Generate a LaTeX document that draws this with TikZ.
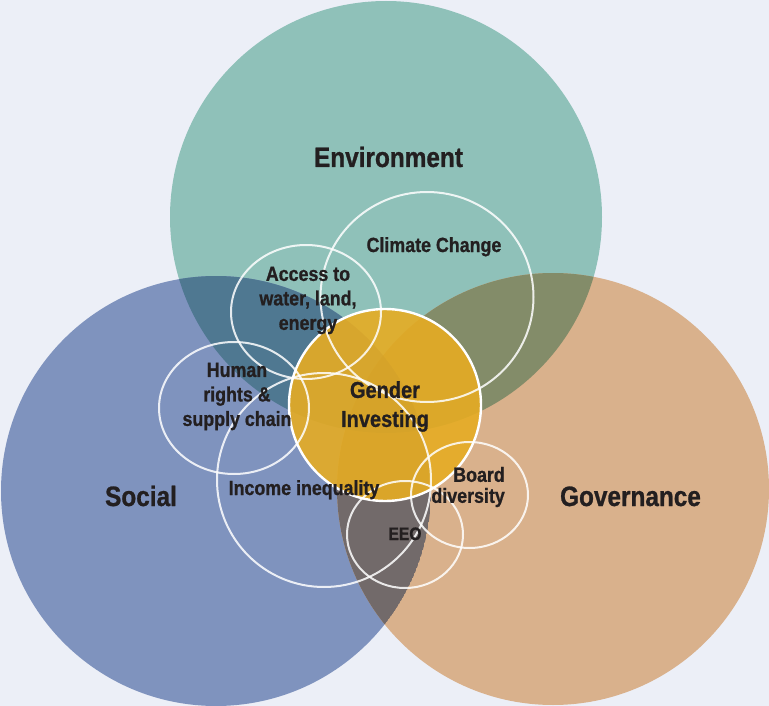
\documentclass[tikz,border=0pt]{standalone}
\usepackage{fontspec}
\setmainfont{Liberation Sans}[FakeStretch=0.87, BoldFeatures={FakeBold=0.9}]
\definecolor{bgc}{HTML}{ECEFF7}
\definecolor{envc}{HTML}{8FC1B9}
\definecolor{socc}{HTML}{7F93BE}
\definecolor{govc}{HTML}{D9B18C}
\definecolor{esc}{HTML}{4F7891}
\definecolor{egc}{HTML}{838C69}
\definecolor{sgc}{HTML}{726A6A}
\definecolor{esgc}{HTML}{4B5A62}
\definecolor{goldc}{HTML}{E6AC23}
\definecolor{txtc}{HTML}{231F20}
\tikzset{
  ring/.style={draw=white, draw opacity=0.85, line width=2pt},
  bigl/.style={inner sep=0pt, text=txtc, font=\bfseries\fontsize{28}{32}\selectfont, anchor=base},
  smalll/.style={inner sep=0pt, text=txtc, font=\bfseries\fontsize{20.5}{24.5}\selectfont},
}
\begin{document}
\begin{tikzpicture}[x=1pt,y=-1pt]
\fill[bgc] (0,0) rectangle (769,706);
\useasboundingbox (0,0) rectangle (769,706);
% big circles
\coordinate (E) at (386,217);
\coordinate (S) at (216,491);
\coordinate (G) at (553,489);
\fill[envc] (E) circle[radius=216pt];
\fill[socc] (S) circle[radius=215pt];
\fill[govc] (G) circle[radius=216pt];
\begin{scope}
  \clip (E) circle[radius=216pt];
  \fill[esc] (S) circle[radius=215pt];
  \fill[egc] (G) circle[radius=216pt];
  \begin{scope}
    \clip (S) circle[radius=215pt];
    \fill[esgc] (G) circle[radius=216pt];
  \end{scope}
\end{scope}
\begin{scope}
  \clip (S) circle[radius=215pt];
  \clip (G) circle[radius=216pt];
  \fill[sgc] (S) circle[radius=215pt];
  \clip (E) circle[radius=216pt];
  \fill[esgc] (S) circle[radius=215pt];
\end{scope}
% gender investing
\fill[goldc, opacity=0.9] (385,405) circle[radius=96pt];
% small rings
\draw[ring] (427,297) ellipse[x radius=106.5pt, y radius=105pt];
\draw[ring] (306,312) ellipse[x radius=75pt, y radius=67pt];
\draw[ring] (234,408) ellipse[x radius=75pt, y radius=66pt];
\draw[ring] (324,480) circle[radius=107pt];
\draw[ring] (469.5,495) ellipse[x radius=58.5pt, y radius=53pt];
\draw[ring] (405,534.5) ellipse[x radius=58pt, y radius=53.5pt];
\draw[draw=white, line width=2.4pt] (385,405) circle[radius=96pt];
% labels
\node[bigl] (env) at (388.5,167) {Environment};
\node[bigl] (soc) at (141,506) {Social};
\node[bigl] (gov) at (630.5,506) {Governance};
\node[smalll, anchor=base] (clim) at (434,252) {Climate Change};
\node[smalll, align=center] (acc) at (308,300.5) {Access to\\water, land,\\energy};
\node[smalll, align=center] (hum) at (237,396.5) {Human\\rights \&\\supply chain};
\node[inner sep=0pt, text=txtc, font=\bfseries\fontsize{23}{29}\selectfont, align=center] (gen) at (385,406.5) {Gender\\Investing};
\node[smalll, anchor=base] (inc) at (304,495) {Income inequality};
\node[smalll, align=right, anchor=east, font=\bfseries\fontsize{20.5}{21}\selectfont] (brd) at (505,487) {Board\\diversity};
\node[smalll, anchor=base, font=\bfseries\fontsize{18}{21}\selectfont] (eeo) at (405,540) {EEO};
\end{tikzpicture}
\end{document}
